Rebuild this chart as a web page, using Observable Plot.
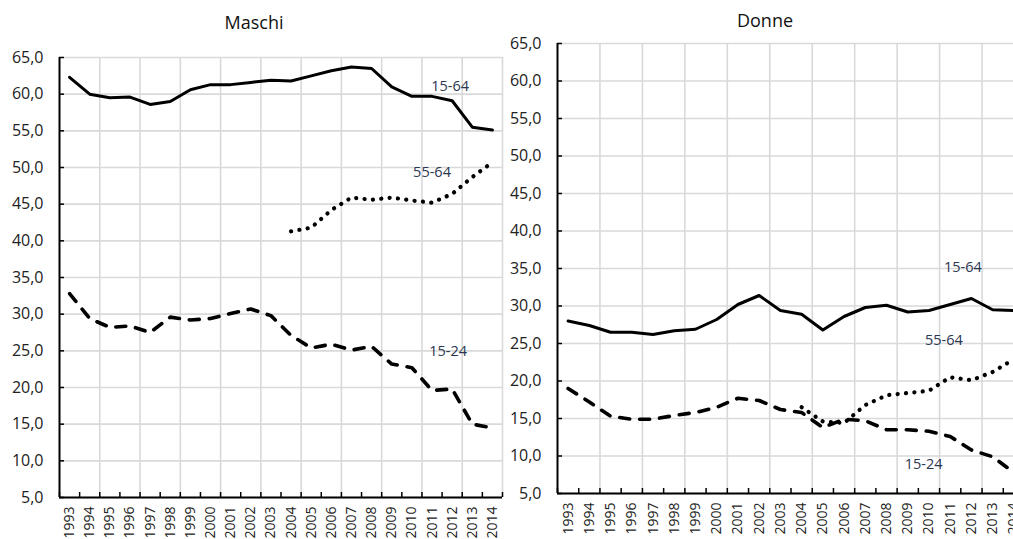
<!DOCTYPE html>
<html>
<head>
<meta charset="utf-8">
<script src="https://cdn.jsdelivr.net/npm/d3@7"></script>
<script src="https://cdn.jsdelivr.net/npm/@observablehq/plot@0.6"></script>
<style>
  html, body { margin: 0; padding: 0; background: #fff; }
  #wrap { position: relative; width: 1013px; height: 539px; overflow: hidden; background: #fff; font-family: "Open Sans", sans-serif; }
  .panel { position: absolute; top: 0; }
  .panel svg { max-width: none !important; display: block; }
  .title { position: absolute; font-size: 18px; color: #111; transform: translateX(-50%); white-space: nowrap; }
</style>
</head>
<body>
<div id="wrap">
  <div class="title" style="left:254px; top:10px;">Maschi</div>
  <div class="title" style="left:765px; top:8px;">Donne</div>
  <div id="left" class="panel" style="left:0px; width:505px;"></div>
  <div id="right" class="panel" style="left:505px; width:530px;"></div>
</div>
<script>
// ---- data ----
const years = [1993,1994,1995,1996,1997,1998,1999,2000,2001,2002,2003,2004,2005,2006,2007,2008,2009,2010,2011,2012,2013,2014];
const yTicks = [5,10,15,20,25,30,35,40,45,50,55,60,65];

const maschi_15_64 = [62.3,60.0,59.5,59.6,58.6,59.0,60.6,61.3,61.3,61.6,61.9,61.8,62.5,63.2,63.7,63.5,61.0,59.7,59.7,59.1,55.5,55.1];
const maschi_55_64 = [null,null,null,null,null,null,null,null,null,null,null,41.3,41.8,44.2,45.9,45.6,45.9,45.5,45.2,46.4,48.7,50.7];
const maschi_15_24 = [32.8,29.4,28.2,28.4,27.5,29.6,29.2,29.4,30.1,30.7,29.8,27.1,25.4,25.9,25.1,25.6,23.2,22.7,19.6,19.8,15.0,14.5];

const donne_15_64 = [28.0,27.4,26.5,26.5,26.2,26.7,26.9,28.2,30.2,31.4,29.4,28.9,26.8,28.6,29.8,30.1,29.2,29.4,30.2,31.0,29.5,29.4];
const donne_55_64 = [null,null,null,null,null,null,null,null,null,null,null,16.5,14.6,14.4,16.8,18.1,18.4,18.7,20.5,20.1,21.2,22.9];
const donne_15_24 = [19.0,17.2,15.3,14.9,14.9,15.4,15.8,16.5,17.7,17.4,16.2,15.8,13.8,14.9,14.7,13.5,13.5,13.3,12.6,10.8,9.9,7.8];

// label anchors (data coordinates)
const maschiLabels = [{text:"15-64", year:2011.9, value:61.0},{text:"55-64", year:2011.0, value:49.3},{text:"15-24", year:2011.8, value:24.9}];
const donneLabels  = [{text:"15-64", year:2011.6, value:35.2},{text:"55-64", year:2010.7, value:25.4},{text:"15-24", year:2009.75, value:8.9}];

// ---- helpers ----
const toRows = (arr) => years.map((y, i) => ({year: y, value: arr[i]}));
const fmt = d => d.toFixed(1).replace(".", ",");
const boundaries = d3.range(1992.5, 2015, 1);
const gridXs = d3.range(1994.5, 2015, 2);

function panel({width, height, ml, mr, mt, mb, s1564, s5564, s1524, labels}) {
  return Plot.plot({
    width, height,
    marginLeft: ml, marginRight: mr, marginTop: mt, marginBottom: mb,
    style: {fontFamily: "Open Sans", background: "transparent", overflow: "visible", maxWidth: "none"},
    x: {domain: [1992.5, 2014.5], axis: null},
    y: {domain: [5, 65], axis: null},
    marks: [
      Plot.gridY(yTicks, {stroke: "#d9d9d9", strokeOpacity: 1, strokeWidth: 1.6}),
      Plot.gridX(gridXs, {stroke: "#d9d9d9", strokeOpacity: 1, strokeWidth: 1.6}),
      Plot.axisY(yTicks, {label: null, tickSize: 5, dx: 5, tickFormat: () => "", stroke: "#000", strokeWidth: 1.5}),
      Plot.axisX(boundaries, {label: null, tickSize: 5, dy: -5, tickFormat: () => "", stroke: "#000", strokeWidth: 1.5}),
      Plot.axisY(yTicks, {label: null, tickSize: 0, tickPadding: 16, tickFormat: fmt, fontSize: 16, fill: "#222"}),
      Plot.axisX(years, {label: null, tickSize: 0, tickPadding: 9, tickRotate: -90, tickFormat: d => String(d), fontSize: 14, fill: "#222"}),
      Plot.ruleX([1992.5], {stroke: "#000", strokeWidth: 2}),
      Plot.ruleY([5], {stroke: "#000", strokeWidth: 2}),
      Plot.lineY(toRows(s1564), {x: "year", y: "value", stroke: "#000", strokeWidth: 3}),
      Plot.lineY(toRows(s5564).filter(d => d.value != null), {x: "year", y: "value", stroke: "#000", strokeWidth: 4.2, strokeDasharray: "0.1 8.3", strokeLinecap: "round"}),
      Plot.lineY(toRows(s1524), {x: "year", y: "value", stroke: "#000", strokeWidth: 3.6, strokeDasharray: "10 10", strokeLinecap: "round"}),
      Plot.text(labels, {x: "year", y: "value", text: "text", fontSize: 14.5, fill: "#2a3650", textAnchor: "middle"})
    ]
  });
}

document.getElementById("left").append(panel({
  width: 505, height: 539, ml: 59, mr: 3, mt: 57, mb: 42,
  s1564: maschi_15_64, s5564: maschi_55_64, s1524: maschi_15_24, labels: maschiLabels
}));
document.getElementById("right").append(panel({
  width: 530, height: 539, ml: 52, mr: 11, mt: 43, mb: 46,
  s1564: donne_15_64, s5564: donne_55_64, s1524: donne_15_24, labels: donneLabels
}));
</script>
</body>
</html>
